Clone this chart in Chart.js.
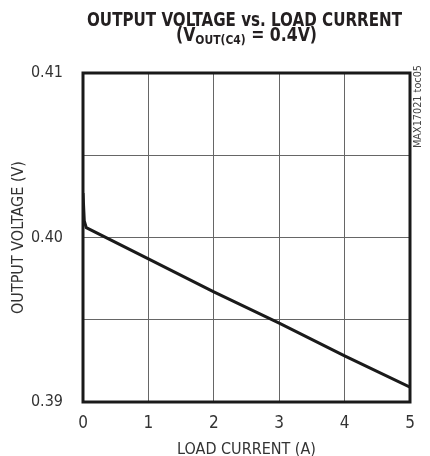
<!DOCTYPE html>
<html>
<head>
<meta charset="utf-8">
<script src="https://cdn.jsdelivr.net/npm/chart.js@4/dist/chart.umd.min.js"></script>
<style>
  html, body { margin: 0; padding: 0; background: #fff; }
</style>
</head>
<body>
<canvas id="chart" width="430" height="456"></canvas>
<script>
// data
const loadCurrent   = [0, 0.02, 0.05, 1, 2, 3, 4, 5]
const outputVoltage = [0.4027, 0.4010, 0.4006, 0.3987, 0.3967, 0.3948, 0.3928, 0.3909]
const xTicks = [0, 1, 2, 3, 4, 5]
const yLabelTicks = [0.39, 0.40, 0.41]

const titleLine1 = 'OUTPUT VOLTAGE vs. LOAD CURRENT'
const titleLine2 = ['(V', 'OUT(C4)', ' = 0.4V)']
const sideNote = 'MAX17021 toc05'

const narrow = "'Liberation Sans Narrow', 'DejaVu Sans Condensed', 'Arial Narrow', sans-serif"

// draw text squeezed/stretched to a given width
function fitText(ctx, text, x, y, width, font) {
  ctx.font = font
  const w = ctx.measureText(text).width
  ctx.save()
  ctx.translate(x, y)
  ctx.scale(width / w, 1)
  ctx.textAlign = 'left'
  ctx.fillText(text, 0, 0)
  ctx.restore()
}

const decor = {
  id: 'decor',
  afterDatasetsDraw(chart) {
    const ctx = chart.ctx
    const a = chart.chartArea
    ctx.save()
    ctx.strokeStyle = '#1a1a1a'
    ctx.lineWidth = 3
    ctx.strokeRect(a.left, a.top, a.right - a.left, a.bottom - a.top)
    ctx.restore()
  },
  afterDraw(chart) {
    const ctx = chart.ctx
    ctx.save()
    ctx.fillStyle = '#231f20'
    ctx.textBaseline = 'alphabetic'
    const big = "bold 19px " + narrow
    const small = "bold 13px " + narrow
    fitText(ctx, titleLine1, 87, 26, 315, big)

    // second line with subscript
    const fonts = [big, small, big]
    const widths = titleLine2.map((t, i) => { ctx.font = fonts[i]; return ctx.measureText(t).width })
    const total = widths.reduce((s, w) => s + w, 0)
    const k = 141 / total
    let x = 176
    titleLine2.forEach((t, i) => {
      fitText(ctx, t, x, i == 1 ? 44 : 41, widths[i] * k, fonts[i])
      x += widths[i] * k
    })

    // rotated figure id on the right
    ctx.fillStyle = '#444'
    ctx.translate(421, 148)
    ctx.rotate(-Math.PI / 2)
    fitText(ctx, sideNote, 0, 0, 83, "11px " + narrow)
    ctx.restore()
  }
}

new Chart(document.getElementById('chart'), {
  type: 'line',
  data: {
    datasets: [{
      data: loadCurrent.map((c, i) => ({ x: c, y: outputVoltage[i] })),
      borderColor: '#1a1a1a',
      borderWidth: 3,
      pointRadius: 0,
      tension: 0,
      fill: false
    }]
  },
  options: {
    responsive: false,
    devicePixelRatio: 1,
    animation: false,
    events: [],
    layout: { padding: { top: 73, right: 20, left: 0, bottom: 0 } },
    plugins: {
      legend: { display: false },
      title: { display: false },
      tooltip: { enabled: false }
    },
    scales: {
      x: {
        type: 'linear',
        min: 0,
        max: 5,
        afterFit: s => { s.height = 54 },
        afterBuildTicks: s => { s.ticks = xTicks.map(v => ({ value: v })) },
        grid: { color: '#666', lineWidth: 1, drawTicks: false },
        border: { display: false },
        ticks: {
          padding: 11,
          color: '#333',
          font: { family: narrow, size: 17 },
          callback: v => String(v)
        },
        title: {
          display: true,
          text: 'LOAD CURRENT (A)',
          color: '#333',
          font: { family: narrow, size: 16, lineHeight: 0.8 },
          padding: { top: 0, bottom: 0 }
        }
      },
      y: {
        min: 0.39,
        max: 0.41,
        afterFit: s => { s.width = 83 },
        ticks: {
          stepSize: 0.005,
          padding: 20,
          color: '#333',
          font: { family: narrow, size: 16 },
          callback: v => yLabelTicks.some(t => Math.abs(t - v) < 1e-6) ? v.toFixed(2) : ''
        },
        grid: { color: '#666', lineWidth: 1, drawTicks: false },
        border: { display: false },
        title: {
          display: true,
          text: 'OUTPUT VOLTAGE (V)',
          color: '#333',
          font: { family: narrow, size: 16, lineHeight: 0.8 },
          padding: { top: 12, bottom: 0 }
        }
      }
    }
  },
  plugins: [decor]
})
</script>
</body>
</html>
